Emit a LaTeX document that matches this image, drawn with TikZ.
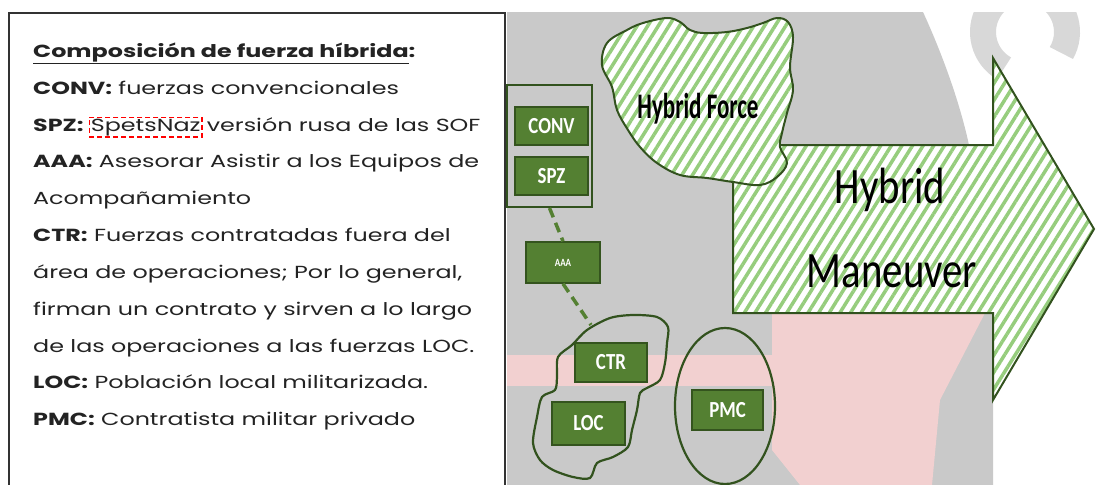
\documentclass[tikz,border=0pt]{standalone}
\usepackage{fontspec}
\setmainfont{Poppins}[FakeStretch=1.36]
\newfontfamily\calib{Carlito}
\usetikzlibrary{patterns.meta,shapes.geometric}
\definecolor{bggray}{RGB}{201,201,201}
\definecolor{boxgreen}{RGB}{84,128,50}
\definecolor{boxdark}{RGB}{52,84,30}
\definecolor{outl}{RGB}{50,82,30}
\definecolor{stripe}{RGB}{150,205,125}
\definecolor{pinkbg}{RGB}{242,208,208}
\definecolor{logogray}{RGB}{216,216,216}
\definecolor{txtcol}{RGB}{35,35,35}
\tikzset{
  txt/.style={anchor=base west, inner sep=0pt, text=txtcol, font=\fontsize{17.5}{20}\selectfont},
  gbox/.style={fill=boxgreen, draw=boxdark, line width=1.5pt, text=white, inner sep=0pt},
  hatched/.style={draw=outl, line width=2pt, preaction={fill=white},
    pattern={Lines[angle=58, distance=9pt, line width=3.5pt]}, pattern color=stripe},
  outline/.style={draw=outl, line width=2.2pt},
  link/.style={draw=boxgreen, line width=3.5pt, dash pattern=on 10pt off 6pt}
}
\begin{document}
\begin{tikzpicture}[x=1pt,y=-1pt]
\useasboundingbox (0,0) rectangle (1096,485);
\fill[white] (0,0) rectangle (1096,485);
% background of the right panel
\fill[bggray] (507,12) -- (923,12) .. controls (945,60) and (962,110) .. (970,150) -- (993,150) -- (993,485) -- (507,485) -- cycle;
\begin{scope}
  \clip (507,12) rectangle (1096,485);
  \draw[logogray, line width=26pt] (1025,32) ++(120:42) arc[start angle=120, end angle=390, radius=42];
\end{scope}
\fill[pinkbg] (507,355) rectangle (775,386);
\fill[pinkbg] (772,313) -- (985,313) -- (940,400) -- (932,485) -- (800,485) -- (772,450) -- cycle;
% left panel frame
\draw[line width=1.2pt, black!80] (9,490) -- (9,13) -- (505,13) -- (505,490);
% left text
\node[txt] (t1) at (33,57) {\underline{\textbf{Composición de fuerza híbrida}}\textbf{:}};
\node[txt] (t2) at (33,94) {\textbf{CONV:} fuerzas convencionales};
\node[txt] (t3) at (33,131) {\textbf{SPZ:}};
\node[txt, draw=red, dash pattern=on 5pt off 3pt, line width=1.2pt, inner sep=1.5pt, anchor=base west] (t3b) at ([xshift=5pt]t3.base east) {SpetsNaz};
\node[txt] (t3c) at ([xshift=4pt]t3b.base east) {versión rusa de las SOF};
\node[txt] (t4) at (33,167) {\textbf{AAA:} Asesorar Asistir a los Equipos de};
\node[txt] (t5) at (33,204) {Acompañamiento};
\node[txt] (t6) at (33,241) {\textbf{CTR:} Fuerzas contratadas fuera del};
\node[txt] (t7) at (33,278) {área de operaciones; Por lo general,};
\node[txt] (t8) at (33,315) {firman un contrato y sirven a lo largo};
\node[txt] (t9) at (33,352) {de las operaciones a las fuerzas LOC.};
\node[txt] (t10) at (33,388) {\textbf{LOC:} Población local militarizada.};
\node[txt] (t11) at (33,425) {\textbf{PMC:} Contratista militar privado};
% big arrow
\path[hatched] (733,145) -- (993,145) -- (993,58) -- (1094,229) -- (993,400) -- (993,313) -- (733,313) -- cycle;
\node[anchor=base, inner sep=0pt, font=\calib\fontsize{51}{51}\selectfont] (hyb) at (890,203) {\scalebox{0.8}[1]{Hybrid}};
\node[anchor=base, inner sep=0pt, font=\calib\fontsize{51}{51}\selectfont] (man) at (892,287) {\scalebox{0.8}[1]{Maneuver}};
% hybrid force blob
\path[hatched] plot[smooth cycle, tension=0.6] coordinates {(607,43) (627,30) (643,23) (667,18) (680,22) (690,30) (703,33) (727,32) (747,28) (763,23) (777,18) (788,22) (793,37) (790,67) (793,90) (787,113) (782,133) (780,147) (787,163) (777,177) (760,185) (733,182) (707,178) (680,175) (657,163) (640,147) (628,130) (617,110) (612,87) (602,65)};
\node[anchor=base, inner sep=0pt, font=\calib\bfseries\fontsize{36}{36}\selectfont] (hf) at (698,118) {\scalebox{0.64}[1]{Hybrid Force}};
% CONV / SPZ group
\node[draw=outl, line width=2pt, minimum width=85pt, minimum height=122pt, inner sep=0pt] (grp) at (549.5,146) {};
\node[gbox, minimum width=73pt, minimum height=38pt, font=\calib\bfseries\fontsize{23}{23}\selectfont] (conv) at (551.5,126) {\scalebox{0.82}[1]{CONV}};
\node[gbox, minimum width=73pt, minimum height=38pt, font=\calib\bfseries\fontsize{23}{23}\selectfont] (spz) at (551.5,176) {\scalebox{0.82}[1]{SPZ}};
\node[gbox, minimum width=74pt, minimum height=41pt, font=\calib\bfseries\fontsize{11}{11}\selectfont] (aaa) at (563,262.5) {\scalebox{0.82}[1]{AAA}};
% CTR / LOC blob
\path[outline] plot[smooth cycle, tension=0.5] coordinates {(572,345) (587,330) (610,318) (633,315) (657,317) (668,327) (667,343) (665,363) (660,380) (647,388) (640,393) (637,410) (632,430) (628,447) (613,457) (597,463) (590,478) (573,477) (553,470) (540,460) (533,443) (537,417) (542,397) (555,390) (557,377) (558,357)};
\coordinate (blobtop) at (591,325);
\node[gbox, minimum width=72pt, minimum height=39pt, font=\calib\bfseries\fontsize{23}{23}\selectfont] (ctr) at (611,362.5) {\scalebox{0.82}[1]{CTR}};
\node[gbox, minimum width=73pt, minimum height=43pt, font=\calib\bfseries\fontsize{23}{23}\selectfont] (loc) at (588.5,423.5) {\scalebox{0.82}[1]{LOC}};
% PMC
\node[draw=outl, line width=2.2pt, ellipse, minimum width=100pt, minimum height=156pt, inner sep=0pt] (pmcring) at (725,406) {};
\node[gbox, minimum width=71pt, minimum height=40pt, font=\calib\bfseries\fontsize{23}{23}\selectfont] (pmc) at (727.5,410) {\scalebox{0.82}[1]{PMC}};
% links
\draw[link] (grp.south) -- (aaa.north);
\draw[link] (aaa.south) -- (blobtop);
\end{tikzpicture}
\end{document}
